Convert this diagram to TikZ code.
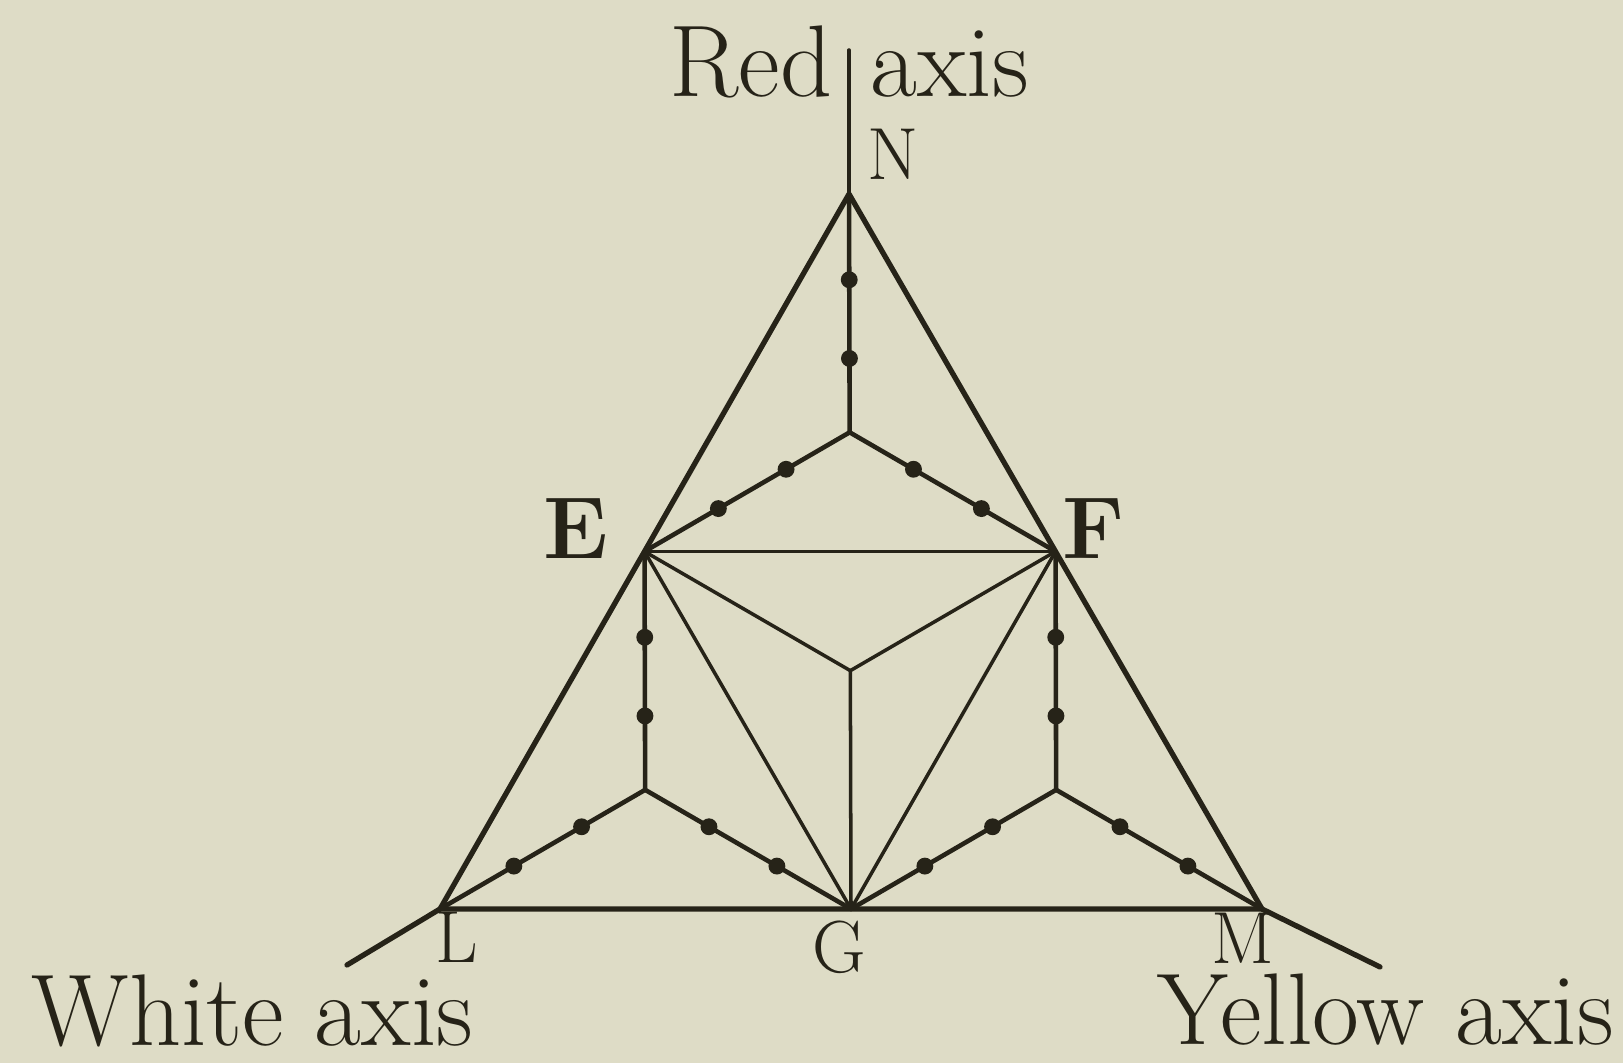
\documentclass[tikz,border=0pt]{standalone}
\usepackage{tikz}
\usetikzlibrary{calc}
\definecolor{paper}{RGB}{222,220,198}
\definecolor{ink}{RGB}{38,35,24}
\def\axisfont{\fontsize{29}{33}\selectfont}
\def\ptfont{\fontsize{21}{25}\selectfont}
\def\efont{\fontsize{25}{28}\selectfont\bfseries}
\newcommand{\bead}[2]{\fill[ink] ($(#1)!0.31!(#2)$) circle (2.4pt);
  \fill[ink] ($(#1)!0.64!(#2)$) circle (2.4pt);}
\tikzset{
  side/.style={draw=ink, line width=1.5pt},
  thinline/.style={draw=ink, line width=1pt},
  leg/.style={draw=ink, line width=1.3pt},
  lab/.style={text=ink, inner sep=0pt},
}

\begin{document}
\begin{tikzpicture}[line cap=round, line join=round]
\fill[paper] (0,0) rectangle (16.23,10.63);
\useasboundingbox (0,0) rectangle (16.23,10.63);
%corners
\coordinate (L) at (4.40,1.54);
\coordinate (M) at (12.62,1.54);
\coordinate (N) at (8.49,8.69);
%midpoints
\coordinate (E) at ($(N)!0.5!(L)$);
\coordinate (F) at ($(N)!0.5!(M)$);
\coordinate (G) at ($(L)!0.5!(M)$);
%centres
\coordinate (O) at (barycentric cs:E=1,F=1,G=1);
\coordinate (On) at (barycentric cs:N=1,E=1,F=1);
\coordinate (Ol) at (barycentric cs:L=1,E=1,G=1);
\coordinate (Om) at (barycentric cs:M=1,F=1,G=1);
%axis ends
\coordinate (Nend) at (8.49,10.13);
\coordinate (Lend) at (3.47,0.98);
\coordinate (Mend) at (13.80,0.96);

%big triangle
\draw[side] (L) -- (N) -- (M) -- cycle;
%axes
\draw[thinline] (N) -- (Nend);
\draw[side] (L) -- (Lend);
\draw[side] (M) -- (Mend);
%inner triangle
\draw[thinline] (E) -- (F);
\draw[thinline] (E) -- (G);
\draw[thinline] (F) -- (G);
%middle star
\draw[thinline] (O) -- (E);
\draw[thinline] (O) -- (F);
\draw[thinline] (O) -- (G);
%corner stars
\draw[leg] (On) -- (N);
\draw[leg] (On) -- (E);
\draw[leg] (On) -- (F);
\draw[leg] (Ol) -- (E);
\draw[leg] (Ol) -- (L);
\draw[leg] (Ol) -- (G);
\draw[leg] (Om) -- (F);
\draw[leg] (Om) -- (G);
\draw[leg] (Om) -- (M);
%beads
\bead{On}{N}
\bead{On}{E}
\bead{On}{F}
\bead{Ol}{E}
\bead{Ol}{L}
\bead{Ol}{G}
\bead{Om}{F}
\bead{Om}{G}
\bead{Om}{M}

%labels
\node[lab, font=\axisfont, anchor=base east] (red) at (8.33,9.66) {Red};
\node[lab, font=\axisfont, anchor=base west] (redaxis) at (8.70,9.66) {axis};
\node[lab, font=\axisfont, anchor=base west] (white) at (0.31,0.17) {White axis};
\node[lab, font=\axisfont, anchor=base west] (yellow) at (11.57,0.18) {Yellow axis};
%points
\node[lab, font=\ptfont, anchor=base west] (Nlab) at (8.67,8.83) {N};
\node[lab, font=\efont, anchor=base west] (Elab) at (5.43,5.04) {E};
\node[lab, font=\efont, anchor=base west] (Flab) at (10.62,5.04) {F};
\node[lab, font=\ptfont, anchor=base west] (Llab) at (4.35,1.00) {L};
\node[lab, font=\ptfont, anchor=base west] (Glab) at (8.12,0.90) {G};
\node[lab, font=\ptfont, anchor=base west] (Mlab) at (12.11,0.99) {M};
\end{tikzpicture}
\end{document}
